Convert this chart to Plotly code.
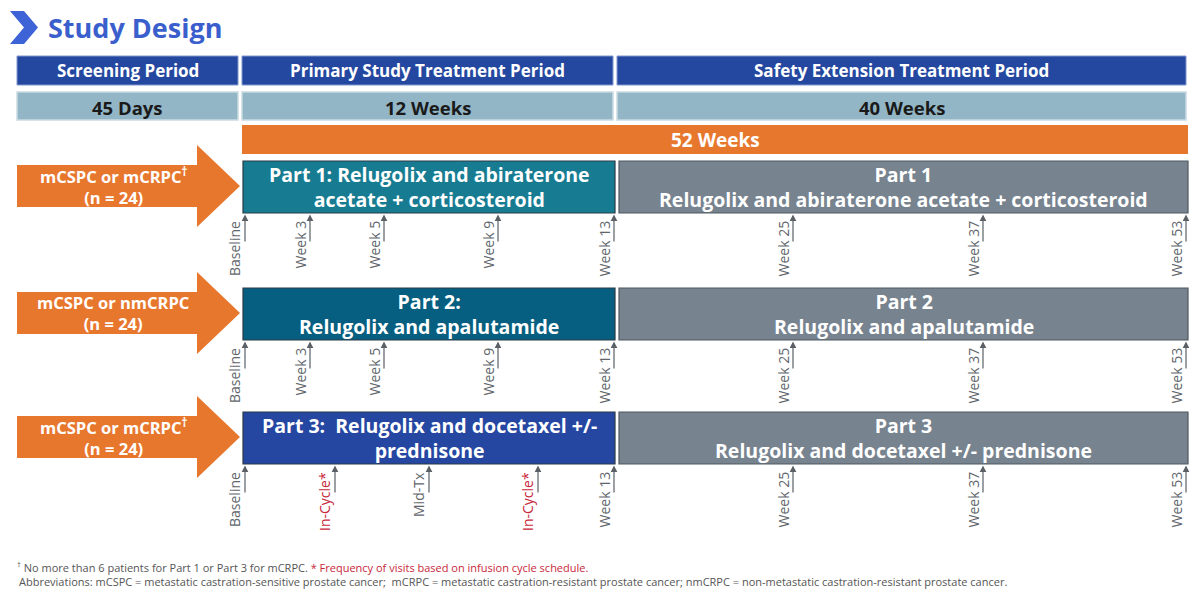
import plotly.graph_objects as go

# ---------------- data ----------------
title_text = "Study Design"
periods = ["Screening Period", "Primary Study Treatment Period", "Safety Extension Treatment Period"]
durations = ["45 Days", "12 Weeks", "40 Weeks"]
total_duration = "52 Weeks"
populations = ["mCSPC or mCRPC<sup>†</sup><br>(n = 24)",
               "mCSPC or nmCRPC<br>(n = 24)",
               "mCSPC or mCRPC<sup>†</sup><br>(n = 24)"]
primary_parts = ["Part 1: Relugolix and abiraterone<br>acetate + corticosteroid",
                 "Part 2:<br>Relugolix and apalutamide",
                 "Part 3:  Relugolix and docetaxel +/-<br>prednisone"]
extension_parts = ["Part 1<br>Relugolix and abiraterone acetate + corticosteroid",
                   "Part 2<br>Relugolix and apalutamide",
                   "Part 3<br>Relugolix and docetaxel +/- prednisone"]
visits_part1 = ["Baseline", "Week 3", "Week 5", "Week 9", "Week 13", "Week 25", "Week 37", "Week 53"]
visits_part2 = ["Baseline", "Week 3", "Week 5", "Week 9", "Week 13", "Week 25", "Week 37", "Week 53"]
visits_part3 = ["Baseline", "In-Cycle*", "Mid-Tx", "In-Cycle*", "Week 13", "Week 25", "Week 37", "Week 53"]
footnote_1a = "<sup>†</sup> No more than 6 patients for Part 1 or Part 3 for mCRPC. "
footnote_1b = "* Frequency of visits based on infusion cycle schedule."
footnote_2 = ("Abbreviations: mCSPC = metastatic castration-sensitive prostate cancer;  "
              "mCRPC = metastatic castration-resistant prostate cancer; "
              "nmCRPC = non-metastatic castration-resistant prostate cancer.")

# ---------------- layout constants (positions / styles) ----------------
W, H = 1200, 602
PAGE_MARGIN = 8  # default body margin of the html page
FONT = "Open Sans"
period_x = [(17, 238), (242, 613), (617, 1186)]
row1_y = (56, 85)
row2_y = (92, 120)
orange_x = (242, 1188)
orange_y = (125, 154)
part_left_x = (243, 615)
part_right_x = (619, 1188)
part_tops = [161, 288, 412]
part_h = 52
visit_x_row12 = [245, 310, 384, 498, 614, 793, 983, 1186]
visit_x_row3 = [245, 335, 429, 538, 614, 793, 983, 1186]

C_HEADER = "#2448a0"
C_HEADER_LINE = "#7f97cf"
C_DUR = "#93b6c6"
C_DUR_LINE = "#c9dbe3"
C_ORANGE = "#e8772e"
C_PRIMARY = ["#177c92", "#065f80", "#2547a2"]
C_GRAY = "#77838f"
C_TITLE = "#3a5fcd"
C_LABEL = "#5f666c"
C_RED = "#c8283a"

shapes = []
annotations = []


def rect(x0, x1, y0, y1, fill, line="#3c4650", lw=1):
    shapes.append(dict(type="rect", xref="x", yref="y", x0=x0, x1=x1, y0=y0, y1=y1,
                       fillcolor=fill, line=dict(color=line, width=lw), layer="below"))


def text(x, y, s, size, color, bold=False, xanchor="center", yanchor="middle", angle=0, family=FONT):
    if bold:
        s = "<b>" + s.replace("<br>", "</b><br><b>") + "</b>"
    annotations.append(dict(x=x, y=y, xref="x", yref="y", text=s, showarrow=False,
                            xanchor=xanchor, yanchor=yanchor, textangle=angle,
                            font=dict(family=family, size=size, color=color)))


# title chevron
shapes.append(dict(type="path", xref="x", yref="y",
                   path="M 10 11 L 24 11 L 38 27.5 L 24 44 L 10 44 L 24 27.5 Z",
                   fillcolor="#3d63d6", line=dict(width=0)))
text(46, 27, title_text, 27, C_TITLE, bold=True, xanchor="left")

# period headers and durations
for (x0, x1), p, d in zip(period_x, periods, durations):
    rect(x0, x1, row1_y[0], row1_y[1], C_HEADER, C_HEADER_LINE, 1)
    text((x0 + x1) / 2, (row1_y[0] + row1_y[1]) / 2, p, 17, "white", bold=True)
    rect(x0, x1, row2_y[0], row2_y[1], C_DUR, C_DUR_LINE, 1.5)
    text((x0 + x1) / 2, (row2_y[0] + row2_y[1]) / 2 + 1, d, 18.5, "#1a1a1a", bold=True)

rect(orange_x[0], orange_x[1], orange_y[0], orange_y[1], C_ORANGE, C_ORANGE, 0)
text((orange_x[0] + orange_x[1]) / 2, (orange_y[0] + orange_y[1]) / 2, total_duration, 19, "white", bold=True)

visit_rows = [visits_part1, visits_part2, visits_part3]
visit_xs = [visit_x_row12, visit_x_row12, visit_x_row3]

for i, top in enumerate(part_tops):
    bot = top + part_h
    off = top - part_tops[0]
    # orange population arrow
    shapes.append(dict(type="path", xref="x", yref="y",
                       path=(f"M 17 {165+off} L 197 {165+off} L 197 {145+off} L 240 {186+off} "
                             f"L 197 {227+off} L 197 {207+off} L 17 {207+off} Z"),
                       fillcolor=C_ORANGE, line=dict(width=0)))
    text(113, 186 + off, populations[i], 16.5, "white", bold=True)
    # part boxes
    rect(part_left_x[0], part_left_x[1], top, bot, C_PRIMARY[i], "#2b3a44", 1.2)
    text((part_left_x[0] + part_left_x[1]) / 2, top + part_h / 2, primary_parts[i], 19.5, "white", bold=True)
    rect(part_right_x[0], part_right_x[1], top, bot, C_GRAY, "#4e5962", 1.2)
    text((part_right_x[0] + part_right_x[1]) / 2, top + part_h / 2, extension_parts[i], 19.5, "white", bold=True)
    # visit arrows and labels
    for lab, vx in zip(visit_rows[i], visit_xs[i]):
        annotations.append(dict(x=vx, y=bot + 1.5, ax=vx, ay=bot + 30, xref="x", yref="y",
                                axref="x", ayref="y", text="", showarrow=True,
                                arrowhead=2, arrowsize=1.1, arrowwidth=1.2, arrowcolor="#5a6066"))
        col = C_RED if lab.startswith("In-Cycle") else C_LABEL
        text(vx - 10.5, bot + 6, lab, 14, col, xanchor="center", yanchor="top", angle=-90)

# footnotes
annotations.append(dict(x=15, y=567, xref="x", yref="y", showarrow=False, xanchor="left", yanchor="middle",
                        text=footnote_1a + f"<span style='color:{C_RED}'>{footnote_1b}</span>",
                        font=dict(family=FONT, size=11, color="#555")))
text(17, 581, footnote_2, 11, "#555", xanchor="left")

fig = go.Figure()
fig.update_layout(
    width=W - PAGE_MARGIN, height=H - PAGE_MARGIN, margin=dict(l=0, r=0, t=0, b=0),
    paper_bgcolor="white", plot_bgcolor="white",
    xaxis=dict(range=[PAGE_MARGIN, W], visible=False, fixedrange=True),
    yaxis=dict(range=[H, PAGE_MARGIN], visible=False, fixedrange=True),
    shapes=shapes, annotations=annotations, showlegend=False,
)
fig.write_html("out.html")
